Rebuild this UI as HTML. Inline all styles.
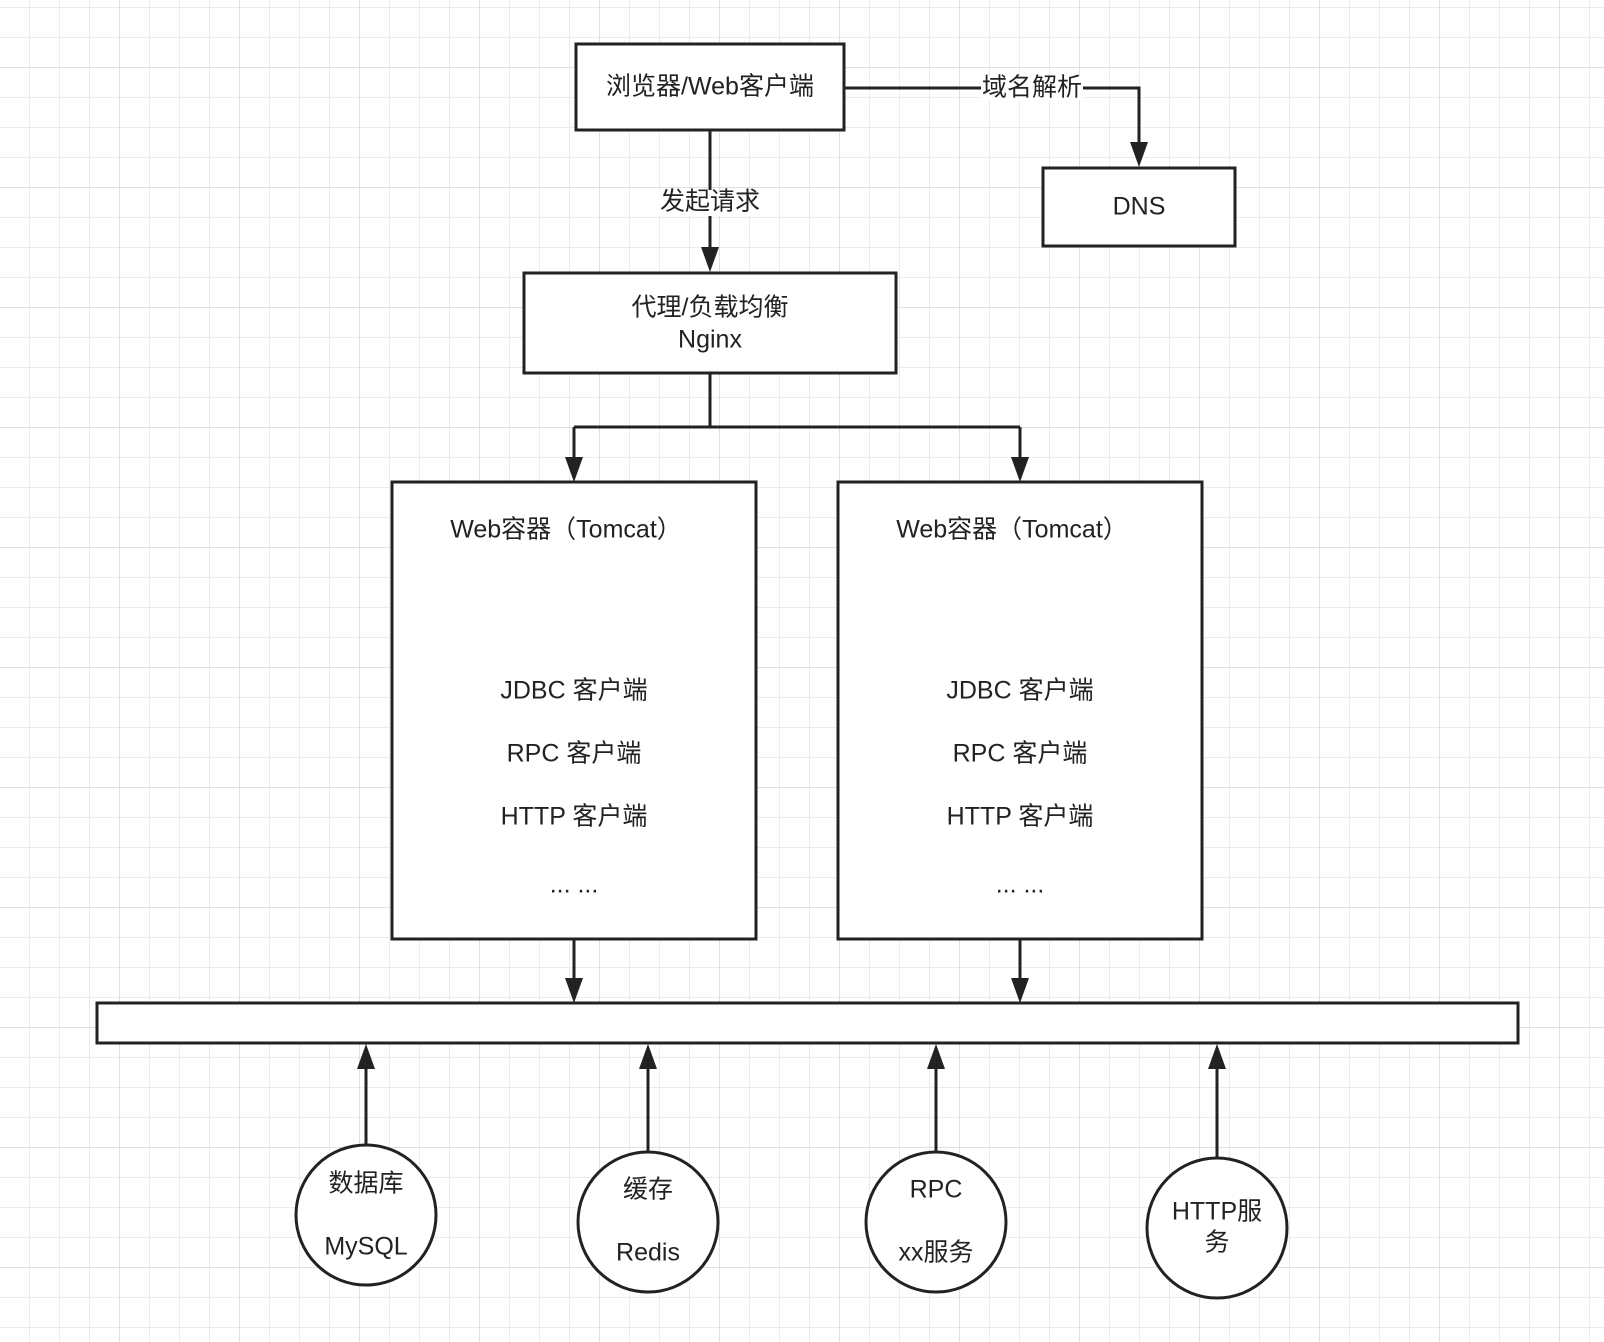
<!DOCTYPE html>
<html><head><meta charset="utf-8"><style>
html,body{margin:0;padding:0;background:#fff}
svg{display:block}
text{font-family:"Liberation Sans","Noto Sans CJK SC",sans-serif;fill:#222;text-anchor:middle;dominant-baseline:middle}
</style></head><body>
<svg width="1604" height="1342" viewBox="0 0 1604 1342" xmlns="http://www.w3.org/2000/svg">
<defs>
<pattern id="g" x="29" y="7" width="30" height="30" patternUnits="userSpaceOnUse">
<path d="M0 0H30M0 0V30" stroke="#ececec" stroke-width="2" fill="none"/>
</pattern>
<pattern id="G" x="119" y="67" width="120" height="120" patternUnits="userSpaceOnUse">
<path d="M0 0H120M0 0V120" stroke="#e0e0e0" stroke-width="2" fill="none"/>
</pattern>
</defs>
<rect width="1604" height="1342" fill="url(#g)"/>
<rect width="1604" height="1342" fill="url(#G)"/>
<g stroke="#222" stroke-width="3" fill="none">
<rect x="576" y="44" width="268" height="86" fill="#fff"/>
<rect x="1043" y="168" width="192" height="78" fill="#fff"/>
<rect x="524" y="273" width="372" height="100" fill="#fff"/>
<rect x="392" y="482" width="364" height="457" fill="#fff"/>
<rect x="838" y="482" width="364" height="457" fill="#fff"/>
<rect x="97" y="1003" width="1421" height="40" fill="#fff"/>
<circle cx="366" cy="1215" r="70" fill="#fff"/>
<circle cx="648" cy="1222" r="70" fill="#fff"/>
<circle cx="936" cy="1222" r="70" fill="#fff"/>
<circle cx="1217" cy="1228" r="70" fill="#fff"/>
<path d="M844 88H1139V145"/>
<path d="M710 130V250"/>
<path d="M710 373V427M574 427H1020M574 427V460M1020 427V460"/>
<path d="M574 939V980M1020 939V980"/>
<path d="M366 1145V1066M648 1152V1066M936 1152V1066M1217 1158V1066"/>
</g>
<g fill="#222">
<path d="M1130 142H1148L1139 167Z"/>
<path d="M701 247H719L710 272Z"/>
<path d="M565 457H583L574 482Z"/>
<path d="M1011 457H1029L1020 482Z"/>
<path d="M565 978H583L574 1003Z"/>
<path d="M1011 978H1029L1020 1003Z"/>
<path d="M357 1069H375L366 1044Z"/>
<path d="M639 1069H657L648 1044Z"/>
<path d="M927 1069H945L936 1044Z"/>
<path d="M1208 1069H1226L1217 1044Z"/>
</g>
<rect x="981" y="76" width="102" height="24" fill="#fff"/>
<rect x="658" y="190" width="104" height="26" fill="#fff"/>
<g font-size="25">
<text x="710" y="88">浏览器/Web客户端</text>
<text x="1032" y="89">域名解析</text>
<text x="1139" y="208">DNS</text>
<text x="710" y="203">发起请求</text>
<text x="710" y="309">代理/负载均衡</text>
<text x="710" y="341">Nginx</text>
<text x="566" y="531">Web容器（Tomcat）</text>
<text x="1012" y="531">Web容器（Tomcat）</text>
<text x="574" y="692">JDBC 客户端</text>
<text x="574" y="755">RPC 客户端</text>
<text x="574" y="818">HTTP 客户端</text>
<text x="574" y="886">... ...</text>
<text x="1020" y="692">JDBC 客户端</text>
<text x="1020" y="755">RPC 客户端</text>
<text x="1020" y="818">HTTP 客户端</text>
<text x="1020" y="886">... ...</text>
<text x="366" y="1185">数据库</text>
<text x="366" y="1248">MySQL</text>
<text x="648" y="1191">缓存</text>
<text x="648" y="1254">Redis</text>
<text x="936" y="1191">RPC</text>
<text x="936" y="1254">xx服务</text>
<text x="1217" y="1213">HTTP服</text>
<text x="1217" y="1244">务</text>
</g>
</svg>
</body></html>
